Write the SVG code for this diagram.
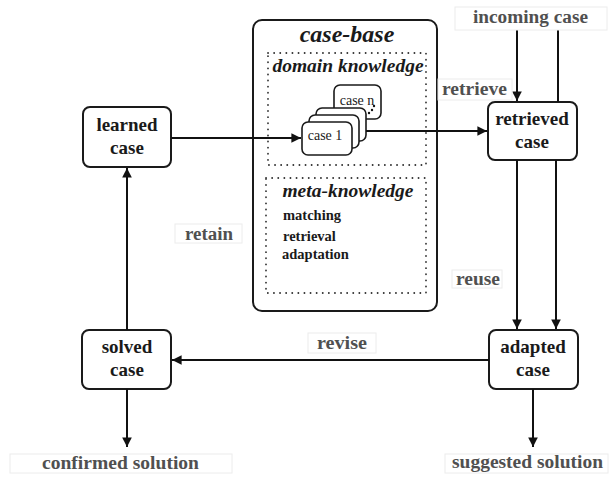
<svg xmlns="http://www.w3.org/2000/svg" width="609" height="477" viewBox="0 0 609 477">
  <defs>
    <marker id="arrow" viewBox="0 0 10 10" refX="10" refY="5" markerWidth="4.8" markerHeight="4.8" orient="auto">
      <path d="M0,0 L10,5 L0,10 z" fill="#111"/>
    </marker>
    <style>
      .node { fill: #fff; stroke: #1a1a1a; stroke-width: 2; }
      .card { fill: #fff; stroke: #1a1a1a; stroke-width: 1.6; }
      .dotbox { fill: none; stroke: #333; stroke-width: 1.8; stroke-dasharray: 0.1 6; stroke-linecap: round; }
      .edge { fill: none; stroke: #111; stroke-width: 2; }
      .ntext { font-family: "Liberation Serif", "Times New Roman", serif; font-weight: bold; font-size: 19px; fill: #1a1a1a; text-anchor: middle; }
      .ltext { font-family: "Liberation Serif", "Times New Roman", serif; font-weight: bold; font-size: 18.5px; fill: #505050; }
      .lbox { fill: #fff; stroke: #ececec; stroke-width: 1; }
      .title { font-family: "Liberation Serif", "Times New Roman", serif; font-weight: bold; font-style: italic; fill: #1a1a1a; text-anchor: middle; }
      .meta { font-family: "Liberation Serif", "Times New Roman", serif; font-weight: bold; font-size: 14.5px; fill: #1a1a1a; }
      .ctext { font-family: "Liberation Serif", "Times New Roman", serif; font-size: 14px; fill: #1a1a1a; text-anchor: middle; }
    </style>
  </defs>
  <rect width="609" height="477" fill="#fff"/>

  <!-- case base container -->
  <g id="case-base">
    <rect x="253" y="20" width="184" height="291" rx="9" class="node"/>
    <text x="347" y="42" class="title" font-size="24">case-base</text>
    <rect x="268" y="53" width="158" height="112" class="dotbox"/>
    <text x="348" y="72" class="title" font-size="19.5">domain knowledge</text>
    <rect x="266" y="178" width="160" height="115" class="dotbox"/>
    <text x="348" y="197" class="title" font-size="19.5">meta-knowledge</text>
    <text x="283" y="220" class="meta">matching</text>
    <text x="283" y="241" class="meta">retrieval</text>
    <text x="282" y="259" class="meta">adaptation</text>
  </g>

  <!-- stack of stored cases -->
  <g id="case-stack">
    <rect x="334" y="85" width="47" height="34" rx="6" class="card"/>
    <text x="357" y="105" class="ctext">case n</text>
    <circle cx="374" cy="106" r="1.2" fill="#111"/>
    <circle cx="372" cy="110" r="1.2" fill="#111"/>
    <circle cx="369" cy="113" r="1.2" fill="#111"/>
    <rect x="316" y="108" width="50" height="33" rx="6" class="card"/>
    <rect x="309" y="115" width="50" height="33" rx="6" class="card"/>
    <rect x="302" y="122" width="50" height="33" rx="6" class="card"/>
    <text x="325" y="140" class="ctext">case 1</text>
  </g>

  <!-- process nodes -->
  <g id="learned-case">
    <rect x="83" y="107" width="88" height="60" rx="7" class="node"/>
    <text x="127" y="131" class="ntext">learned</text>
    <text x="127" y="154" class="ntext">case</text>
  </g>
  <g id="retrieved-case">
    <rect x="488" y="102" width="89" height="58" rx="7" class="node"/>
    <text x="532" y="125" class="ntext">retrieved</text>
    <text x="532" y="148" class="ntext">case</text>
  </g>
  <g id="solved-case">
    <rect x="82" y="330" width="89" height="59" rx="7" class="node"/>
    <text x="127" y="353" class="ntext">solved</text>
    <text x="127" y="376" class="ntext">case</text>
  </g>
  <g id="adapted-case">
    <rect x="489" y="330" width="89" height="59" rx="7" class="node"/>
    <text x="533" y="353" class="ntext">adapted</text>
    <text x="533" y="376" class="ntext">case</text>
  </g>

  <!-- connectors -->
  <g id="connectors">
    <line x1="171" y1="138" x2="301" y2="138" class="edge" marker-end="url(#arrow)"/>
    <line x1="366" y1="131" x2="487" y2="131" class="edge" marker-end="url(#arrow)"/>
    <line x1="517" y1="29" x2="517" y2="101" class="edge" marker-end="url(#arrow)"/>
    <line x1="558" y1="29" x2="558" y2="102" class="edge"/>
    <line x1="517" y1="160" x2="517" y2="329" class="edge" marker-end="url(#arrow)"/>
    <line x1="556" y1="160" x2="556" y2="329" class="edge" marker-end="url(#arrow)"/>
    <line x1="489" y1="360" x2="172" y2="360" class="edge" marker-end="url(#arrow)"/>
    <line x1="127" y1="330" x2="127" y2="168" class="edge" marker-end="url(#arrow)"/>
    <line x1="127" y1="389" x2="127" y2="447" class="edge" marker-end="url(#arrow)"/>
    <line x1="533" y1="389" x2="533" y2="447" class="edge" marker-end="url(#arrow)"/>
  </g>

  <!-- step labels -->
  <g id="labels">
    <rect x="455" y="7" width="152" height="23" class="lbox"/>
    <text x="473" y="23" class="ltext" textLength="115" lengthAdjust="spacingAndGlyphs">incoming case</text>
    <rect x="438" y="79" width="74" height="21" class="lbox"/>
    <text x="442" y="95" class="ltext" textLength="65" lengthAdjust="spacingAndGlyphs">retrieve</text>
    <rect x="175" y="224" width="67" height="19" class="lbox"/>
    <text x="185" y="240" class="ltext" textLength="48" lengthAdjust="spacingAndGlyphs">retain</text>
    <rect x="452" y="270" width="50" height="18" class="lbox"/>
    <text x="456" y="285" class="ltext" textLength="44" lengthAdjust="spacingAndGlyphs">reuse</text>
    <rect x="308" y="333" width="68" height="20" class="lbox"/>
    <text x="317" y="349" class="ltext" textLength="50" lengthAdjust="spacingAndGlyphs">revise</text>
    <rect x="10" y="454" width="222" height="19" class="lbox"/>
    <text x="42" y="469" class="ltext" textLength="157" lengthAdjust="spacingAndGlyphs">confirmed solution</text>
    <rect x="445" y="454" width="163" height="19" class="lbox"/>
    <text x="452" y="468" class="ltext" textLength="151" lengthAdjust="spacingAndGlyphs">suggested solution</text>
  </g>
</svg>
